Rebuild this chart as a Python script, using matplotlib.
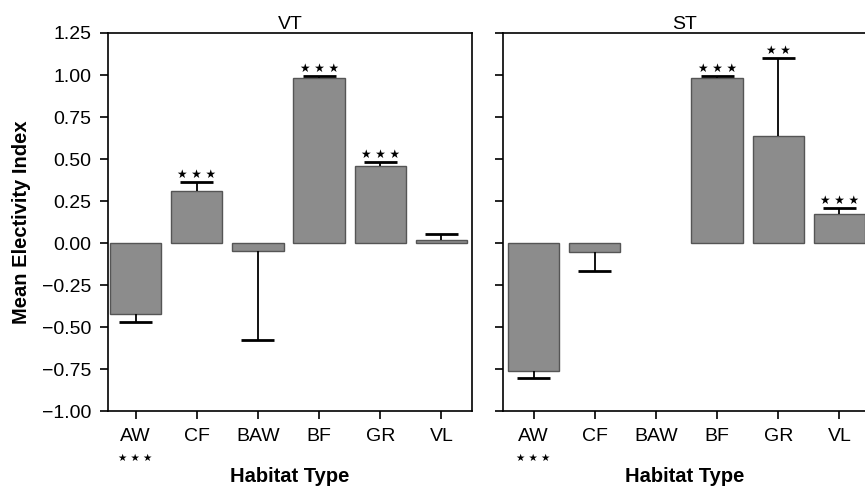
import numpy as np
import matplotlib.pyplot as plt

plt.rcParams['font.family'] = ['Liberation Sans', 'DejaVu Sans']

habitats = ['AW', 'CF', 'BAW', 'BF', 'GR', 'VL']

# VT panel
vt_mean = [-0.42, 0.31, -0.05, 0.98, 0.46, 0.02]
vt_err = [0.05, 0.055, 0.53, 0.015, 0.025, 0.035]
vt_stars = ['', '★ ★ ★', '', '★ ★ ★', '★ ★ ★', '']

# ST panel (no BAW bar)
st_mean = [-0.76, -0.055, np.nan, 0.98, 0.635, 0.17]
st_err = [0.045, 0.11, np.nan, 0.015, 0.465, 0.04]
st_stars = ['', '', '', '★ ★ ★', '★ ★', '★ ★ ★']

# stars printed under the AW tick label
label_stars = ['★ ★ ★', '', '', '', '', '']

yticks = [-1.00, -0.75, -0.50, -0.25, 0.00, 0.25, 0.50, 0.75, 1.00, 1.25]


def draw_panel(ax, means, errs, stars, title, xlim):
    x = np.arange(len(habitats))
    means = np.array(means)
    errs = np.array(errs)
    ax.bar(x, means, width=0.84, color='#8c8c8c', edgecolor='#555555', linewidth=1.0)

    # one-sided error bars, pointing away from zero
    ok = ~np.isnan(means)
    sign = np.where(means >= 0, 1, -1)
    tips = means + sign * errs
    ax.vlines(x[ok], means[ok], tips[ok], color='black', linewidth=1.3)
    ax.hlines(tips[ok], x[ok] - 0.27, x[ok] + 0.27, color='black', linewidth=2.0)

    for xi, t, s in zip(x, tips, stars):
        if s:
            ax.text(xi, t + 0.005, s, ha='center', va='bottom', fontsize=8.5,
                    family='DejaVu Sans')
    for xi, s in zip(x, label_stars):
        if s:
            ax.text(xi, -0.125, s, ha='center', va='center', fontsize=7.5,
                    family='DejaVu Sans', transform=ax.get_xaxis_transform())

    ax.set_xlim(xlim)
    ax.set_ylim(-1.0, 1.25)
    ax.set_xticks(x)
    ax.set_xticklabels(habitats, fontsize=14)
    ax.set_yticks(yticks)
    ax.set_title(title, fontsize=14, pad=3)
    ax.set_xlabel('Habitat Type', fontsize=14.5, fontweight='bold', labelpad=16)
    ax.tick_params(direction='out', length=6, width=1.2, pad=6)
    for sp in ax.spines.values():
        sp.set_linewidth(1.2)


fig = plt.figure(figsize=(8.65, 4.86), dpi=100)
ax1 = fig.add_axes([0.1249, 0.1543, 0.4208, 0.7778])
ax2 = fig.add_axes([0.5815, 0.1543, 0.4208, 0.7778])

draw_panel(ax1, vt_mean, vt_err, vt_stars, 'VT', (-0.45, 5.5))
ax1.set_yticklabels([f'{v:.2f}'.replace('-', '\u2212') for v in yticks], fontsize=14)
ax1.set_ylabel('Mean Electivity Index', fontsize=14.5, fontweight='bold', labelpad=8)

draw_panel(ax2, st_mean, st_err, st_stars, 'ST', (-0.5, 5.45))
ax2.set_yticklabels([])

fig.savefig('out.png', dpi=100)
